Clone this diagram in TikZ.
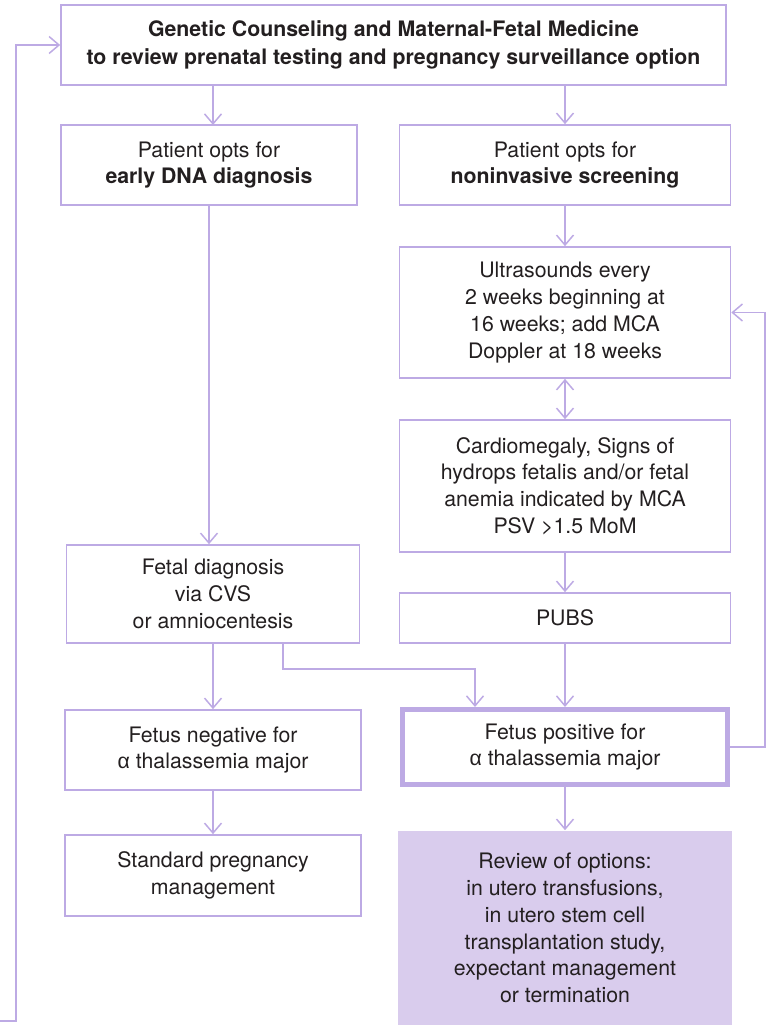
\documentclass[tikz,border=0pt]{standalone}
\usepackage{fontspec}
\setmainfont{TeX Gyre Heros}
\newfontfamily\grkfont{Liberation Sans}
\usetikzlibrary{arrows.meta}
\definecolor{boxline}{RGB}{189,170,228}
\definecolor{boxfill}{RGB}{217,204,237}
\definecolor{boxtext}{RGB}{35,31,32}
\tikzset{
    box/.style={draw=boxline, line width=1.6pt, rectangle, align=center,
        inner sep=0pt, text=boxtext, font=\fontsize{21.3}{26.8}\selectfont},
    keybox/.style={box, line width=5pt},
    optbox/.style={box, draw=none, fill=boxfill},
    link/.style={draw=boxline, line width=1.5pt,
        >={Straight Barb[length=10pt,width=17pt]}}
}
\begin{document}
\begin{tikzpicture}[x=1pt,y=-1pt]
    \useasboundingbox (0,0) rectangle (768,1027);
    \node[box, minimum width=665, minimum height=80] (GC) at (393.5,45)
        {\bfseries Genetic Counseling and Maternal-Fetal Medicine\\[1pt]
         \bfseries to review prenatal testing and pregnancy surveillance option};
    \node[box, minimum width=296, minimum height=80] (DNA) at (209,165)
        {Patient opts for\\ \bfseries early DNA diagnosis};
    \node[box, minimum width=331, minimum height=80] (NIS) at (565,165)
        {Patient opts for\\ \bfseries noninvasive screening};
    \node[box, minimum width=331, minimum height=131] (US) at (565,312.5)
        {Ultrasounds every\\ 2 weeks beginning at\\ 16 weeks; add MCA\\ Doppler at 18 weeks};
    \node[box, minimum width=331, minimum height=132] (CARD) at (565,486)
        {Cardiomegaly, Signs of\\ hydrops fetalis and/or fetal\\ anemia indicated by MCA\\ PSV >1.5 MoM};
    \node[box, minimum width=331, minimum height=50] (PUBS) at (565,618) {PUBS};
    \node[box, minimum width=293, minimum height=98] (FD) at (213,594)
        {Fetal diagnosis\\ via CVS\\ or amniocentesis};
    \node[box, minimum width=296, minimum height=80] (NEG) at (213,750)
        {Fetus negative for\\ {\grkfont α} thalassemia major};
    \node[keybox, minimum width=325, minimum height=75] (POS) at (565,747)
        {Fetus positive for\\ {\grkfont α} thalassemia major};
    \node[box, minimum width=296, minimum height=81] (STD) at (213,875.5)
        {Standard pregnancy\\ management};
    \node[optbox, minimum width=334, minimum height=194] (REV) at (565,928)
        {Review of options:\\ in utero transfusions,\\ in utero stem cell\\
         transplantation study,\\ expectant management\\ or termination};
    \coordinate (L0) at (0,1021);
    \coordinate (L1) at (16,1021);
    % down the flow
    \draw[link,->] (GC.south -| 213,0) -- (213,125);
    \draw[link,->] (GC.south -| NIS.north) -- (NIS.north);
    \draw[link,->] (DNA.south) -- (DNA.south |- FD.north);
    \draw[link,->] (NIS) to (US);
    \draw[link,<->] (US) to (CARD);
    \draw[link,->] (CARD) to (PUBS);
    \draw[link,->] (PUBS) to (POS);
    \draw[link,->] (FD) to (NEG);
    \draw[link,->] ([xshift=70pt]FD.south) -- ++(0,25) -| ([xshift=-90pt]POS.north);
    \draw[link,->] (NEG) to (STD);
    \draw[link,->] (POS) to (REV);
    % loops back
    \draw[link,->] (POS.east) -- ++(35,0) |- (US.east);
    \draw[link,->] (L0) -- (L1) |- (GC.west);
\end{tikzpicture}
\end{document}
